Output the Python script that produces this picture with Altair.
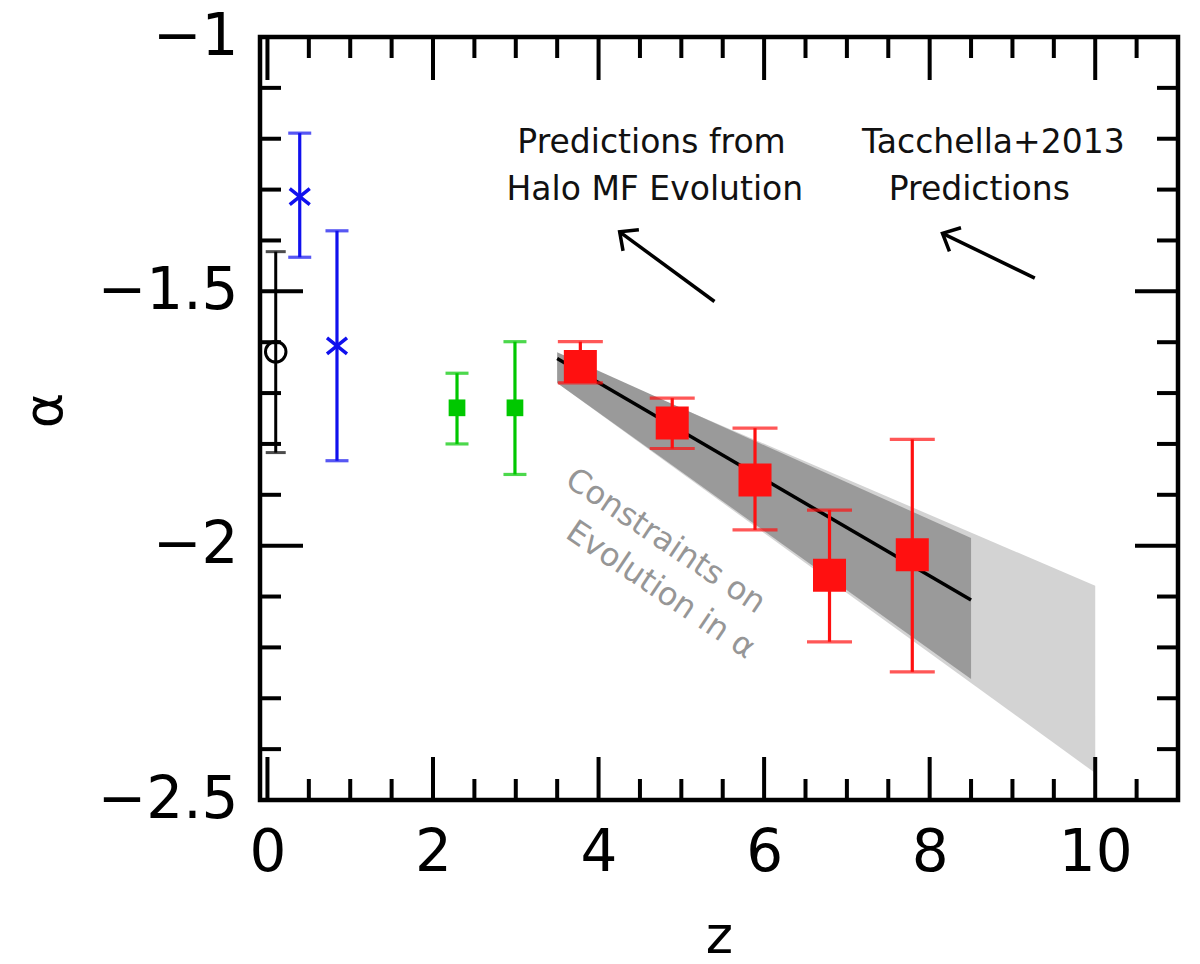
import altair as alt
import pandas as pd

# ---------------- data ----------------
blue_z = [0.39, 0.84]
blue_alpha = [-1.314, -1.607]
blue_hi = [-1.189, -1.381]
blue_lo = [-1.433, -1.833]

black_z = [0.10]
black_alpha = [-1.619]
black_hi = [-1.422]
black_lo = [-1.817]

green_z = [2.29, 2.99]
green_alpha = [-1.729, -1.729]
green_hi = [-1.661, -1.599]
green_lo = [-1.800, -1.860]

red_z = [3.78, 4.89, 5.89, 6.79, 7.79]
red_alpha = [-1.648, -1.759, -1.871, -2.058, -2.018]
red_hi = [-1.599, -1.710, -1.769, -1.930, -1.791]
red_lo = [-1.680, -1.809, -1.969, -2.189, -2.248]

fit_z = [3.5, 8.5]
fit_alpha = [-1.632, -2.107]
constraint_hi = [-1.620, -1.985]
constraint_lo = [-1.680, -2.262]

tacchella_z = [3.5, 10.0]
tacchella_hi = [-1.625, -2.079]
tacchella_lo = [-1.680, -2.447]

x_major = [0, 2, 4, 6, 8, 10]
x_minor = [0.5, 1, 1.5, 2.5, 3, 3.5, 4.5, 5, 5.5, 6.5, 7, 7.5, 8.5, 9, 9.5, 10.5]
y_major = [-2.5, -2.0, -1.5, -1.0]
y_minor = [-2.4, -2.3, -2.2, -2.1, -1.9, -1.8, -1.7, -1.6, -1.4, -1.3, -1.2, -1.1]

# annotations
label_z = [4.64, 4.68, 8.77, 8.60]
label_a = [-1.209, -1.300, -1.209, -1.300]
label_t = ["Predictions from", "Halo MF Evolution", "Tacchella+2013", "Predictions"]

arrow_tail_z = [5.40, 9.27]
arrow_tail_a = [-1.520, -1.474]
arrow_head_z = [4.255, 8.155]
arrow_head_a = [-1.383, -1.386]
arrow_angle = [217, 206]

rot_z = [4.81, 4.75]
rot_a = [-1.991, -2.087]
rot_t = ["Constraints on", "Evolution in α"]

# ---------------- layout ----------------
W, H = 918, 763
FONT = "DejaVu Sans"
xs = alt.Scale(domain=[-0.09, 11.0], nice=False, zero=False)
ys = alt.Scale(domain=[-2.5, -1.0], nice=False, zero=False)

x_axis = alt.Axis(
    values=x_major, format="d", title="z", labelFontSize=58,
    labelPadding=24, tickSize=0, titleFontSize=52, titleFontWeight="normal",
    titleX=W / 2, titleY=136, titleBaseline="middle", titleAngle=0)
y_axis = alt.Axis(
    values=y_major, format="~g", title="α", labelFontSize=58,
    labelPadding=22, tickSize=0, titleFontSize=54, titleFontWeight="normal",
    titleX=-215, titleY=373, titleAngle=270, titleAlign="center",
    titleBaseline="middle")


def X(f):
    return alt.X(f, type="quantitative", scale=xs, axis=x_axis, title="z")


def Y(f):
    return alt.Y(f, type="quantitative", scale=ys, axis=y_axis, title="α")


layers = []

# bands
tac_df = pd.DataFrame({"z": tacchella_z, "hi": tacchella_hi, "lo": tacchella_lo})
layers.append(alt.Chart(tac_df).mark_area(color="#d3d3d3", opacity=1).encode(
    x=X("z"), y=Y("hi"), y2="lo"))
con_df = pd.DataFrame({"z": fit_z, "hi": constraint_hi, "lo": constraint_lo})
layers.append(alt.Chart(con_df).mark_area(color="#9a9a9a", opacity=1).encode(
    x=X("z"), y=Y("hi"), y2="lo"))
fit_df = pd.DataFrame({"z": fit_z, "a": fit_alpha})
layers.append(alt.Chart(fit_df).mark_line(color="black", strokeWidth=3.5).encode(
    x=X("z"), y=Y("a")))


def errbar(z, a, hi, lo, color, cap, lw, shape, size, filled, pw=3):
    df = pd.DataFrame({"z": z, "a": a, "hi": hi, "lo": lo})
    base = alt.Chart(df)
    out = [
        base.mark_rule(color=color, strokeWidth=lw).encode(x=X("z"), y=Y("lo"), y2="hi"),
        base.mark_tick(color=color, orient="horizontal", size=cap, thickness=lw).encode(
            x=X("z"), y=Y("hi")),
        base.mark_tick(color=color, orient="horizontal", size=cap, thickness=lw).encode(
            x=X("z"), y=Y("lo")),
    ]
    if filled:
        out.append(base.mark_point(shape=shape, size=size, filled=True, color=color,
                                   opacity=1).encode(x=X("z"), y=Y("a")))
    else:
        out.append(base.mark_point(shape=shape, size=size, filled=False, color=color,
                                   strokeWidth=pw, opacity=1).encode(x=X("z"), y=Y("a")))
    return out


layers += errbar(black_z, black_alpha, black_hi, black_lo, "black", 20, 3,
                 "circle", 420, False, 3)
layers += errbar(blue_z, blue_alpha, blue_hi, blue_lo, "#1010ee", 23, 3.2,
                 "M-1,-0.8L1,0.8M-1,0.8L1,-0.8", 400, False, 3.5)
layers += errbar(green_z, green_alpha, green_hi, green_lo, "#00c800", 23, 3.2,
                 "square", 280, True)
layers += errbar(red_z, red_alpha, red_hi, red_lo, "#ff1010", 45, 3.2,
                 "square", 1090, True)

# text annotations
lab_df = pd.DataFrame({"z": label_z, "a": label_a, "t": label_t})
layers.append(alt.Chart(lab_df).mark_text(font=FONT, fontSize=33, color="#111111",
                                          align="center", baseline="middle").encode(
    x=X("z"), y=Y("a"), text="t:N"))

rot_df = pd.DataFrame({"z": rot_z, "a": rot_a, "t": rot_t})
layers.append(alt.Chart(rot_df).mark_text(font=FONT, fontSize=32, color="#969696",
                                          align="center", baseline="middle",
                                          angle=34).encode(
    x=X("z"), y=Y("a"), text="t:N"))

# arrows
arr_df = pd.DataFrame({"tz": arrow_tail_z, "ta": arrow_tail_a,
                       "hz": arrow_head_z, "ha": arrow_head_a, "ang": arrow_angle})
layers.append(alt.Chart(arr_df).mark_rule(color="black", strokeWidth=3.5).encode(
    x=X("tz"), y=Y("ta"), x2="hz", y2="ha"))
layers.append(alt.Chart(arr_df).mark_point(
    shape="M-1,-0.93L0,0L-1,0.93", size=800, filled=False, color="black",
    strokeWidth=3.5, opacity=1).encode(
    x=X("hz"), y=Y("ha"), angle=alt.Angle("ang:Q", scale=None)))


# frame ticks
def hticks(vals, length):
    df = pd.DataFrame({"v": vals})
    c = alt.Chart(df)
    return [
        c.mark_rule(color="black", strokeWidth=4).encode(
            x=X("v"), y=alt.value(H), y2=alt.value(H - length)),
        c.mark_rule(color="black", strokeWidth=4).encode(
            x=X("v"), y=alt.value(0), y2=alt.value(length)),
    ]


def vticks(vals, length):
    df = pd.DataFrame({"v": vals})
    c = alt.Chart(df)
    return [
        c.mark_rule(color="black", strokeWidth=4).encode(
            y=Y("v"), x=alt.value(0), x2=alt.value(length)),
        c.mark_rule(color="black", strokeWidth=4).encode(
            y=Y("v"), x=alt.value(W), x2=alt.value(W - length)),
    ]


layers += hticks(x_major, 43) + hticks(x_minor, 21)
layers += vticks(y_major, 43) + vticks(y_minor, 21)

chart = alt.layer(*layers).properties(
    width=W, height=H,
    autosize=alt.AutoSizeParams(type="none"),
    padding={"left": 260, "top": 37, "right": 22, "bottom": 164},
).configure(font=FONT).configure_view(
    stroke="black", strokeWidth=4.5
).configure_axis(
    domain=False, ticks=False, grid=False, labelColor="black", titleColor="black",
    labelFont=FONT, titleFont=FONT
)

chart.save("out.html", embed_options={"renderer": "svg", "actions": False})
